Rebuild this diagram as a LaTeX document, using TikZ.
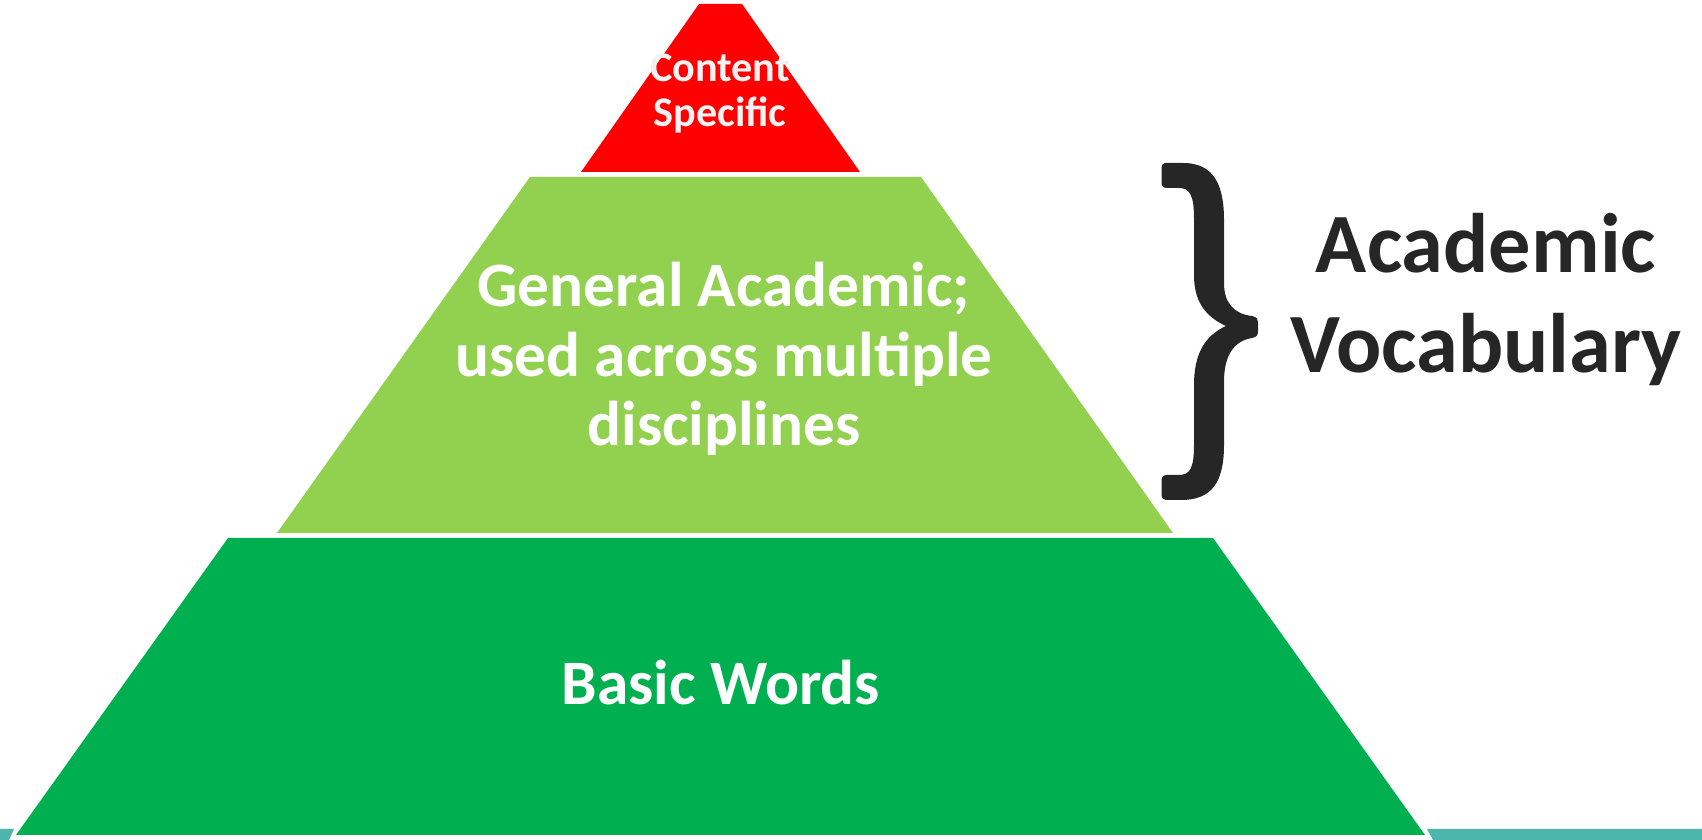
\documentclass[tikz,border=0pt]{standalone}
\usepackage{fontspec}
\setmainfont{Carlito}
\usepackage{tikz}
\usetikzlibrary{positioning, calc}

\definecolor{TierRed}{HTML}{FF0000}
\definecolor{TierLight}{HTML}{92D050}
\definecolor{TierDark}{HTML}{00B050}
\definecolor{BarTeal}{HTML}{4DB6AC}
\definecolor{InkGray}{HTML}{262626}

\begin{document}
\begin{tikzpicture}[
    x=0.01cm, y=-0.01cm,
    redtier/.style={fill=TierRed},
    lighttier/.style={fill=TierLight},
    darktier/.style={fill=TierDark},
    tealbar/.style={fill=BarTeal},
    tiertext/.style={align=center, inner sep=0pt, anchor=base, text=white, font=\bfseries\fontsize{18}{19.9}\selectfont},
    sidetext/.style={align=center, inner sep=0pt, anchor=base, text=InkGray, font=\bfseries\fontsize{24}{28.7}\selectfont}]

    \useasboundingbox (0,0) rectangle (1702,840);

    %%% Pyramid tiers
    \fill[redtier] (699,4) -- (742,4) -- (860,172) -- (581,172) -- cycle;
    \fill[lighttier] (530,177) -- (921,177) -- (1173,533) -- (277,533) -- cycle;
    \fill[darktier] (228,538) -- (1213,538) -- (1425,835) -- (16,835) -- cycle;

    %%% Bars along the bottom edge
    \fill[tealbar] (0,829) -- (14,829) -- (9,840) -- (0,840) -- cycle;
    \fill[tealbar] (1427,829) -- (1702,829) -- (1702,840) -- (1433,840) -- cycle;

    %%% Tier labels (base = last line)
    \node[tiertext, text=white!95!black, font=\bfseries\fontsize{12}{12.8}\selectfont] (content) at (720,127) {Content\\Specific};
    \node[tiertext] (general) at (724,446) {General Academic;\\used across multiple\\disciplines};
    \node[tiertext] (basic) at (721,705) {Basic Words};

    %%% Brace and its label
    \fill[InkGray] (1165,163) -- (1183,163) .. controls (1214,163) and (1224,185) .. (1224,220)
        -- (1224,283) .. controls (1224,303) and (1234,314) .. (1252,316)
        .. controls (1257,317) and (1258,319) .. (1258,322)
        -- (1258,331) .. controls (1258,335) and (1257,337) .. (1252,338)
        .. controls (1234,341) and (1224,355) .. (1224,382)
        -- (1224,445) .. controls (1224,482) and (1212,500) .. (1181,500)
        -- (1166,500) .. controls (1163,500) and (1161.5,498) .. (1161.5,494)
        -- (1161.5,481) .. controls (1161.5,477) and (1163,475) .. (1167,475)
        -- (1179,475) .. controls (1190,475) and (1194,468) .. (1194,445)
        -- (1194,385) .. controls (1194,355) and (1204,336) .. (1226,326)
        .. controls (1204,316) and (1194,300) .. (1194,275)
        -- (1194,218) .. controls (1194,196) and (1190,188) .. (1179,188)
        -- (1167,188) .. controls (1163,188) and (1161.5,186) .. (1161.5,182)
        -- (1161.5,169) .. controls (1161.5,165) and (1163,163) .. (1165,163) -- cycle;
    \node[sidetext] (academic) at (1486,373) {Academic\\Vocabulary};

\end{tikzpicture}
\end{document}
